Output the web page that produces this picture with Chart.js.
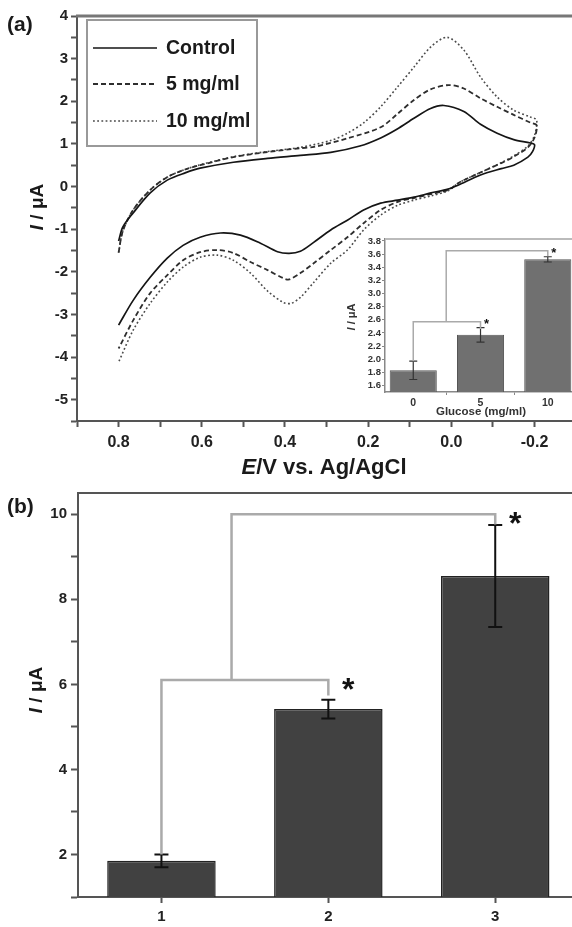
<!DOCTYPE html>
<html>
<head>
<meta charset="utf-8">
<script src="https://cdn.jsdelivr.net/npm/chart.js@4.4.1/dist/chart.umd.min.js"></script>
<style>
  html, body { margin: 0; padding: 0; background: #fff; }
  #wrap { position: relative; width: 572px; height: 927px; overflow: hidden; background: #fff; }
  #wrap canvas { position: absolute; }
</style>
</head>
<body>
<div id="wrap">
  <canvas id="cv" width="572" height="480" style="left:0;top:0"></canvas>
  <canvas id="inset" width="232" height="195" style="left:340px;top:225px"></canvas>
  <canvas id="bars" width="572" height="447" style="left:0;top:480px"></canvas>
</div>
<script>
// ---- (a) cyclic voltammograms: potential E (V) and current I (µA) along each sweep ----
const controlE = [0.80, 0.79, 0.765, 0.724, 0.683, 0.64, 0.604, 0.524, 0.442, 0.363, 0.29, 0.22, 0.17, 0.13, 0.09, 0.05, 0.018, -0.03, -0.07, -0.11, -0.15, -0.19, -0.20,
  -0.195, -0.184, -0.15, -0.12, -0.07, -0.016, 0.008, 0.049, 0.09, 0.129, 0.17, 0.211, 0.25, 0.29, 0.331, 0.363, 0.39, 0.418, 0.459, 0.507, 0.555, 0.604, 0.645, 0.683, 0.724, 0.765, 0.80];
const controlI = [-1.28, -0.95, -0.62, -0.15, 0.15, 0.32, 0.43, 0.57, 0.66, 0.73, 0.80, 0.95, 1.14, 1.35, 1.60, 1.83, 1.90, 1.76, 1.46, 1.25, 1.10, 1.02, 0.98,
  0.82, 0.69, 0.50, 0.42, 0.27, 0.03, -0.06, -0.15, -0.25, -0.32, -0.39, -0.55, -0.79, -1.02, -1.31, -1.52, -1.57, -1.53, -1.33, -1.14, -1.09, -1.19, -1.38, -1.68, -2.13, -2.67, -3.25];

const mg5E = [0.80, 0.79, 0.765, 0.724, 0.683, 0.64, 0.604, 0.524, 0.442, 0.363, 0.33, 0.25, 0.17, 0.13, 0.09, 0.05, 0.006, -0.03, -0.07, -0.11, -0.15, -0.19, -0.205,
  -0.20, -0.184, -0.15, -0.12, -0.07, -0.02, 0.008, 0.05, 0.09, 0.129, 0.17, 0.211, 0.25, 0.29, 0.331, 0.363, 0.39, 0.404, 0.442, 0.483, 0.524, 0.563, 0.604, 0.645, 0.683, 0.724, 0.765, 0.80];
const mg5I = [-1.55, -1.05, -0.55, -0.08, 0.22, 0.40, 0.50, 0.69, 0.81, 0.90, 0.93, 1.13, 1.39, 1.70, 2.03, 2.28, 2.38, 2.30, 2.07, 1.87, 1.68, 1.50, 1.44,
  1.15, 0.92, 0.70, 0.55, 0.33, 0.10, -0.08, -0.18, -0.27, -0.36, -0.55, -0.86, -1.19, -1.49, -1.80, -2.03, -2.18, -2.15, -1.96, -1.77, -1.56, -1.49, -1.54, -1.73, -2.08, -2.50, -3.14, -3.80];

const mg10E = [0.80, 0.79, 0.765, 0.724, 0.683, 0.64, 0.604, 0.524, 0.442, 0.363, 0.29, 0.25, 0.21, 0.17, 0.13, 0.09, 0.05, 0.01, -0.03, -0.07, -0.11, -0.15, -0.19, -0.205,
  -0.20, -0.184, -0.15, -0.12, -0.07, -0.02, 0.008, 0.049, 0.09, 0.129, 0.17, 0.211, 0.25, 0.29, 0.331, 0.363, 0.385, 0.404, 0.442, 0.483, 0.524, 0.563, 0.604, 0.645, 0.683, 0.724, 0.765, 0.80];
const mg10I = [-1.55, -1.05, -0.55, -0.08, 0.22, 0.40, 0.51, 0.70, 0.82, 0.92, 1.08, 1.25, 1.50, 1.87, 2.33, 2.80, 3.27, 3.50, 3.20, 2.57, 2.10, 1.79, 1.63, 1.56,
  1.20, 0.95, 0.72, 0.56, 0.33, 0.10, -0.10, -0.22, -0.32, -0.44, -0.67, -1.02, -1.49, -1.80, -2.25, -2.60, -2.74, -2.72, -2.45, -2.03, -1.73, -1.61, -1.66, -1.89, -2.24, -2.74, -3.37, -4.12];

const seriesNames = ['Control', '5 mg/ml', '10 mg/ml'];

// ---- (a) inset: peak current vs glucose ----
const glucoseLabels = ['0', '5', '10'];
const insetX = [0, 1, 2];
const insetMeans = [1.83, 2.37, 3.52];
const insetErrors = [0.14, 0.11, 0.04];
// significance brackets: [from x, to x, level, left foot, right foot]
const insetBrackets = [[0, 1, 2.57, 1.97, 2.46], [0.49, 2, 3.65, 2.57, 3.57]];

// ---- (b) peak current per group ----
const groupLabels = ['1', '2', '3'];
const groupX = [1, 2, 3];
const groupMeans = [1.85, 5.42, 8.55];
const groupErrors = [0.15, 0.22, 1.20];
const groupBrackets = [[1, 2, 6.1, 2.0, 5.74], [1.42, 3, 10.0, 6.1, 9.76]];

const FONT = '"Liberation Sans", Arial, Helvetica, sans-serif';
const pts = (xs, ys) => xs.map((x, i) => ({ x, y: ys[i] }));

function drawRich(ctx, parts, x, y, size) {
  const fonts = parts.map(p => `${p[1] ? 'italic ' : ''}bold ${size}px ${FONT}`);
  let total = 0;
  const widths = parts.map((p, i) => { ctx.font = fonts[i]; const w = ctx.measureText(p[0]).width; total += w; return w; });
  let cx = x - total / 2;
  ctx.textAlign = 'left';
  ctx.textBaseline = 'middle';
  parts.forEach((p, i) => { ctx.font = fonts[i]; ctx.fillText(p[0], cx, y); cx += widths[i]; });
}
function drawRichUp(ctx, parts, x, y, size) {
  ctx.save();
  ctx.translate(x, y);
  ctx.rotate(-Math.PI / 2);
  drawRich(ctx, parts, 0, 0, size);
  ctx.restore();
}
function fixedWidth(w) { return function (scale) { scale.width = w; }; }
function fixedHeight(h) { return function (scale) { scale.height = h; }; }

// error bars, significance brackets and stars for a bar chart
function barExtras(xs, means, errors, brackets, o) {
  return {
    id: 'barExtras',
    afterDatasetsDraw(chart) {
      const { ctx, scales: { x, y } } = chart;
      ctx.save();
      ctx.strokeStyle = o.errColor; ctx.lineWidth = o.errWidth; ctx.lineCap = 'butt';
      means.forEach((m, i) => {
        const px = x.getPixelForValue(xs[i]);
        const top = y.getPixelForValue(m + errors[i]);
        const bot = y.getPixelForValue(m - errors[i]);
        ctx.beginPath();
        ctx.moveTo(px, top); ctx.lineTo(px, bot);
        ctx.moveTo(px - o.cap, top); ctx.lineTo(px + o.cap, top);
        ctx.moveTo(px - o.cap, bot); ctx.lineTo(px + o.cap, bot);
        ctx.stroke();
      });
      brackets.forEach(b => {
        const x1 = x.getPixelForValue(b[0]), x2 = x.getPixelForValue(b[1]);
        const yl = y.getPixelForValue(b[2]);
        ctx.strokeStyle = o.brColor; ctx.lineWidth = o.brWidth;
        ctx.beginPath();
        ctx.moveTo(x1, y.getPixelForValue(b[3]));
        ctx.lineTo(x1, yl); ctx.lineTo(x2, yl);
        ctx.lineTo(x2, y.getPixelForValue(b[4]));
        ctx.stroke();
        ctx.fillStyle = '#111';
        ctx.font = `bold ${o.starSize}px ${FONT}`;
        ctx.textAlign = 'center'; ctx.textBaseline = 'middle';
        ctx.fillText('*', x2 + o.starDx, yl + o.starDy);
      });
      ctx.restore();
    }
  };
}

// ---------------- panel (a) ----------------
const cvDecor = {
  id: 'cvDecor',
  afterDraw(chart) {
    const { ctx, chartArea: a } = chart;
    ctx.save();
    ctx.strokeStyle = '#777'; ctx.lineWidth = 3;
    ctx.beginPath(); ctx.moveTo(a.left - 1, a.top); ctx.lineTo(a.right, a.top); ctx.stroke();
    ctx.fillStyle = '#1a1a1a';
    ctx.font = `bold 21px ${FONT}`; ctx.textAlign = 'left'; ctx.textBaseline = 'middle';
    ctx.fillText('(a)', 7, 25);
    drawRichUp(ctx, [['I', true], [' / μA', false]], 38, 207, 19);
    drawRich(ctx, [['E', true], ['/V vs. Ag/AgCl', false]], 324, 468, 22);
    // legend
    ctx.strokeStyle = '#999'; ctx.lineWidth = 2;
    ctx.strokeRect(87, 20, 170, 126);
    const ys = [48, 84, 121];
    chart.data.datasets.forEach((ds, i) => {
      ctx.strokeStyle = ds.borderColor; ctx.lineWidth = ds.borderWidth;
      ctx.setLineDash(ds.borderDash || []);
      ctx.beginPath(); ctx.moveTo(93, ys[i]); ctx.lineTo(157, ys[i]); ctx.stroke();
      ctx.setLineDash([]);
      ctx.fillStyle = '#1a1a1a';
      ctx.font = `bold 19.5px ${FONT}`; ctx.textAlign = 'left'; ctx.textBaseline = 'middle';
      ctx.fillText(ds.label, 166, ys[i] + 1);
    });
    ctx.restore();
  }
};

const lineStyles = [
  { color: '#151515', width: 1.7, dash: [] },
  { color: '#2e2e2e', width: 1.8, dash: [5, 3] },
  { color: '#4a4a4a', width: 1.6, dash: [1.8, 2.4] }
];
const curves = [pts(controlE, controlI), pts(mg5E, mg5I), pts(mg10E, mg10I)];

new Chart(document.getElementById('cv'), {
  type: 'scatter',
  data: {
    datasets: curves.map((d, i) => ({
      label: seriesNames[i], data: d, showLine: true, pointRadius: 0,
      borderColor: lineStyles[i].color, borderWidth: lineStyles[i].width, borderDash: lineStyles[i].dash,
      tension: 0.3, fill: false
    }))
  },
  options: {
    responsive: false, animation: false,
    layout: { padding: { top: 16, left: 0, right: 0, bottom: 0 } },
    plugins: { legend: { display: false }, tooltip: { enabled: false } },
    scales: {
      x: {
        type: 'linear', reverse: true, min: -0.29, max: 0.9,
        afterFit: fixedHeight(59),
        border: { display: true, color: '#555', width: 2 },
        grid: { drawOnChartArea: false, drawTicks: true, tickLength: 6, tickColor: '#555', tickWidth: 2 },
        ticks: {
          stepSize: 0.1, includeBounds: false, autoSkip: false, maxRotation: 0, padding: 6,
          color: '#222', font: { family: FONT, size: 16, weight: 'bold' },
          callback: v => { const k = Math.round(v * 10); return k % 2 === 0 ? (k === 0 ? '0.0' : (k / 10).toFixed(1)) : ''; }
        }
      },
      y: {
        min: -5.5, max: 4,
        afterFit: fixedWidth(77),
        border: { display: true, color: '#555', width: 2 },
        grid: { drawOnChartArea: false, drawTicks: true, tickLength: 6, tickColor: '#555', tickWidth: 2 },
        ticks: {
          stepSize: 0.5, includeBounds: false, autoSkip: false, padding: 3,
          color: '#222', font: { family: FONT, size: 15, weight: 'bold' },
          callback: v => (Math.abs(v - Math.round(v)) < 1e-6 ? String(Math.round(v)) : '')
        }
      }
    }
  },
  plugins: [cvDecor]
});

// ---------------- inset ----------------
const insetDecor = {
  id: 'insetDecor',
  beforeDraw(chart) {
    const { ctx, chartArea: a } = chart;
    ctx.save();
    ctx.fillStyle = '#fff';
    ctx.fillRect(a.left, a.top, a.right - a.left, a.bottom - a.top);
    ctx.restore();
  },
  afterDraw(chart) {
    const { ctx, chartArea: a } = chart;
    ctx.save();
    ctx.strokeStyle = '#bbb'; ctx.lineWidth = 2;
    ctx.beginPath(); ctx.moveTo(a.left, a.top); ctx.lineTo(a.right, a.top); ctx.stroke();
    ctx.fillStyle = '#333';
    drawRichUp(ctx, [['I', true], [' / μA', false]], 12, 92, 11);
    drawRich(ctx, [['Glucose (mg/ml)', false]], 141, 187, 11.5);
    ctx.restore();
  }
};

new Chart(document.getElementById('inset'), {
  type: 'bar',
  data: {
    datasets: [{
      data: insetMeans.map((m, i) => ({ x: insetX[i], y: m })),
      backgroundColor: '#707070', borderColor: '#555', borderWidth: 1,
      categoryPercentage: 1, barPercentage: 0.7
    }]
  },
  options: {
    responsive: false, animation: false,
    layout: { padding: { top: 14, left: 0, right: 0, bottom: 0 } },
    plugins: { legend: { display: false }, tooltip: { enabled: false } },
    scales: {
      x: {
        type: 'linear', min: -0.42, max: 2.36, offset: false,
        afterFit: fixedHeight(28),
        border: { display: true, color: '#888', width: 1.5 },
        grid: { offset: true, drawOnChartArea: false, drawTicks: true, tickLength: 3, tickColor: '#888' },
        ticks: {
          stepSize: 1, includeBounds: false, autoSkip: false, maxRotation: 0, padding: 2,
          color: '#333', font: { family: FONT, size: 10.5, weight: 'bold' },
          callback: v => glucoseLabels[insetX.indexOf(Math.round(v))] ?? ''
        }
      },
      y: {
        min: 1.5, max: 3.83,
        afterFit: fixedWidth(45),
        border: { display: true, color: '#888', width: 1.5 },
        grid: { drawOnChartArea: false, drawTicks: true, tickLength: 3, tickColor: '#888' },
        ticks: {
          stepSize: 0.2, includeBounds: false, autoSkip: false, padding: 1,
          color: '#333', font: { family: FONT, size: 9.5, weight: 'bold' },
          callback: v => v.toFixed(1)
        }
      }
    }
  },
  plugins: [insetDecor, barExtras(insetX, insetMeans, insetErrors, insetBrackets,
    { errColor: '#333', errWidth: 1.2, cap: 4, brColor: '#aaa', brWidth: 1.5, starSize: 13, starDx: 6, starDy: 3 })]
});

// ---------------- panel (b) ----------------
const barDecor = {
  id: 'barDecor',
  afterDraw(chart) {
    const { ctx, chartArea: a } = chart;
    ctx.save();
    ctx.strokeStyle = '#555'; ctx.lineWidth = 2;
    ctx.beginPath(); ctx.moveTo(a.left - 1, a.top); ctx.lineTo(a.right, a.top); ctx.stroke();
    ctx.fillStyle = '#1a1a1a';
    ctx.font = `bold 21px ${FONT}`; ctx.textAlign = 'left'; ctx.textBaseline = 'middle';
    ctx.fillText('(b)', 7, 27);
    drawRichUp(ctx, [['I', true], [' / μA', false]], 37, 210, 19);
    ctx.restore();
  }
};

new Chart(document.getElementById('bars'), {
  type: 'bar',
  data: {
    datasets: [{
      data: groupMeans.map((m, i) => ({ x: groupX[i], y: m })),
      backgroundColor: '#414141', borderColor: '#222', borderWidth: 1.5,
      categoryPercentage: 1, barPercentage: 0.65
    }]
  },
  options: {
    responsive: false, animation: false,
    layout: { padding: { top: 11, left: 0, right: 0, bottom: 0 } },
    plugins: { legend: { display: false }, tooltip: { enabled: false } },
    scales: {
      x: {
        type: 'linear', min: 0.5, max: 3.46, offset: false,
        afterFit: fixedHeight(30),
        border: { display: true, color: '#555', width: 2 },
        grid: { offset: false, drawOnChartArea: false, drawTicks: true, tickLength: 6, tickColor: '#555', tickWidth: 2 },
        ticks: {
          stepSize: 1, includeBounds: false, autoSkip: false, maxRotation: 0, padding: 5,
          color: '#222', font: { family: FONT, size: 15, weight: 'bold' },
          callback: v => groupLabels[groupX.indexOf(Math.round(v))] ?? ''
        }
      },
      y: {
        min: 1, max: 10.5,
        afterFit: fixedWidth(78),
        border: { display: true, color: '#555', width: 2 },
        grid: { drawOnChartArea: false, drawTicks: true, tickLength: 7, tickColor: '#555', tickWidth: 2 },
        ticks: {
          stepSize: 1, includeBounds: false, autoSkip: false, padding: 4,
          color: '#222', font: { family: FONT, size: 15, weight: 'bold' },
          callback: v => (Math.round(v) % 2 === 0 ? String(Math.round(v)) : '')
        }
      }
    }
  },
  plugins: [barDecor, barExtras(groupX, groupMeans, groupErrors, groupBrackets,
    { errColor: '#111', errWidth: 2, cap: 7, brColor: '#aaa', brWidth: 2.5, starSize: 32, starDx: 20, starDy: 11 })]
});
</script>
</body>
</html>
